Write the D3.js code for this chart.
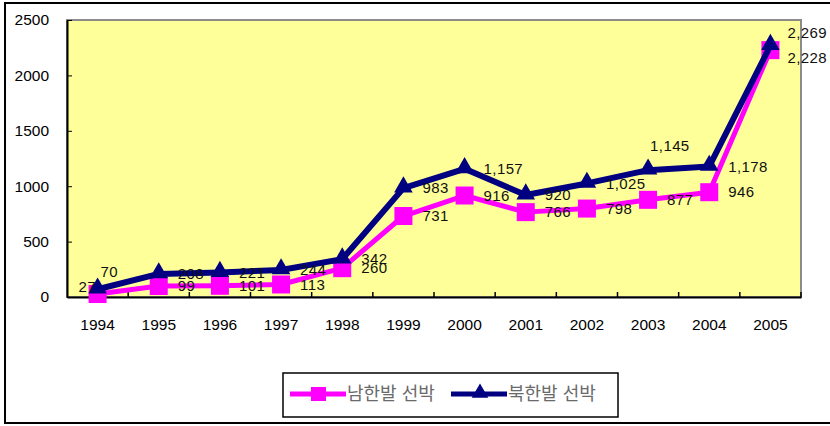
<!DOCTYPE html>
<html lang="ko">
<head>
<meta charset="utf-8">
<style>
  body { margin: 0; background: #fff; }
  svg { display: block; font-family: "Liberation Sans", Arial, sans-serif; }
  .axis text { font-size: 15.5px; fill: #000; }
  .axis path, .axis line { stroke: #000; }
  .lbl { font-size: 15px; fill: #111; }
  .legend text { font-family: "Noto Sans CJK KR", sans-serif; font-size: 18px; fill: #6a6a6a; }
</style>
<script src="https://d3js.org/d3.v7.min.js"></script>
</head>
<body>
<script>
var years = ["1994","1995","1996","1997","1998","1999","2000","2001","2002","2003","2004","2005"];
var southShips = [27, 99, 101, 113, 260, 731, 916, 766, 798, 877, 946, 2228];   // 남한발 선박
var northShips = [70, 208, 221, 244, 342, 983, 1157, 920, 1025, 1145, 1178, 2269]; // 북한발 선박
var yTicks = [0, 500, 1000, 1500, 2000, 2500];
var seriesNames = ["남한발 선박", "북한발 선박"];

var width = 830, height = 426;
var plot = {left: 67, top: 20, right: 801, bottom: 297};

var svg = d3.select("body").append("svg")
  .attr("width", width)
  .attr("height", height);

// outer frame
svg.append("rect")
  .attr("x", 5).attr("y", 3)
  .attr("width", 840).attr("height", 420)
  .attr("fill", "#fff").attr("stroke", "#000").attr("stroke-width", 2);

var x = d3.scaleBand().domain(years).range([plot.left, plot.right]);
var y = d3.scaleLinear().domain([0, 2500]).range([plot.bottom, plot.top]);
var cx = function(i) { return x(years[i]) + x.bandwidth() / 2; };

// plot area
svg.append("rect")
  .attr("x", plot.left).attr("y", plot.top)
  .attr("width", plot.right - plot.left).attr("height", plot.bottom - plot.top)
  .attr("fill", "#ffff99").attr("stroke", "#8c8c8c").attr("stroke-width", 2);

// y axis (ticks inward)
var yAxis = svg.append("g").attr("class", "axis")
  .attr("transform", "translate(" + plot.left + ",0)")
  .call(d3.axisLeft(y).tickValues(yTicks).tickFormat(d3.format("d"))
    .tickSizeInner(-5).tickSizeOuter(0).tickPadding(18));
yAxis.select(".domain").attr("stroke-width", 2);

// x axis (labels centered, ticks at category boundaries)
var xAxis = svg.append("g").attr("class", "axis")
  .attr("transform", "translate(0," + plot.bottom + ")")
  .call(d3.axisBottom(x).tickSize(0).tickPadding(22));
xAxis.select(".domain").attr("stroke-width", 2);

svg.append("g").selectAll("line")
  .data(years.slice(1).concat(["end"]))
  .enter().append("line")
  .attr("x1", function(d) { return d === "end" ? plot.right : x(d); })
  .attr("x2", function(d) { return d === "end" ? plot.right : x(d); })
  .attr("y1", plot.bottom).attr("y2", plot.bottom - 5)
  .attr("stroke", "#000").attr("stroke-width", 1.5);

var line = d3.line()
  .x(function(d, i) { return cx(i); })
  .y(function(d) { return y(d); });

var tri = d3.symbol().type(d3.symbolTriangle);

function drawSeries(vals, color, marker, lw) {
  var g = svg.append("g");
  g.append("path").datum(vals)
    .attr("d", line)
    .attr("fill", "none").attr("stroke", color)
    .attr("stroke-width", lw).attr("stroke-linejoin", "round");
  if (marker === "square") {
    g.selectAll("rect").data(vals).enter().append("rect")
      .attr("x", function(d, i) { return cx(i) - 9; })
      .attr("y", function(d) { return y(d) - 9; })
      .attr("width", 18).attr("height", 18)
      .attr("fill", color);
  } else {
    g.selectAll("path.m").data(vals).enter().append("path")
      .attr("class", "m")
      .attr("d", tri.size(150))
      .attr("transform", function(d, i) { return "translate(" + cx(i) + "," + (y(d) - 1) + ")"; })
      .attr("fill", color);
  }
}

drawSeries(southShips, "#ff00ff", "square", 5);
drawSeries(northShips, "#000080", "triangle", 6);

// data labels: right of point by default, a few moved as in the original
var nudge = {
  "s0": [-19, -7], "n0": [3, -17],
  "n9": [2, -24],
  "n11": [17, -13], "s11": [17, 8]
};
var fmt = d3.format(",");
function drawLabels(vals, key) {
  svg.append("g").selectAll("text").data(vals).enter().append("text")
    .attr("class", "lbl")
    .attr("x", function(d, i) { var n = nudge[key + i]; return cx(i) + (n ? n[0] : 19); })
    .attr("y", function(d, i) { var n = nudge[key + i]; return y(d) + (n ? n[1] : 0); })
    .attr("dy", "0.35em")
    .style("letter-spacing", "0.4px")
    .text(function(d) { return fmt(d); });
}
drawLabels(southShips, "s");
drawLabels(northShips, "n");

// legend
var lg = svg.append("g").attr("class", "legend");
lg.append("rect")
  .attr("x", 283).attr("y", 373).attr("width", 335).attr("height", 44)
  .attr("fill", "#fff").attr("stroke", "#000").attr("stroke-width", 1.5);
var legendItems = [
  {name: seriesNames[0], color: "#ff00ff", marker: "square", x0: 290},
  {name: seriesNames[1], color: "#000080", marker: "triangle", x0: 451}
];
legendItems.forEach(function(it) {
  var ly = 394;
  lg.append("line")
    .attr("x1", it.x0).attr("x2", it.x0 + 56)
    .attr("y1", ly).attr("y2", ly)
    .attr("stroke", it.color).attr("stroke-width", 5);
  if (it.marker === "square") {
    lg.append("rect").attr("x", it.x0 + 21).attr("y", ly - 7)
      .attr("width", 15).attr("height", 14).attr("fill", it.color);
  } else {
    lg.append("path").attr("d", tri.size(120))
      .attr("transform", "translate(" + (it.x0 + 29) + "," + (ly - 1) + ")")
      .attr("fill", it.color);
  }
  lg.append("text")
    .attr("x", it.x0 + 57).attr("y", ly).attr("dy", "0.35em")
    .text(it.name);
});
</script>
</body>
</html>
